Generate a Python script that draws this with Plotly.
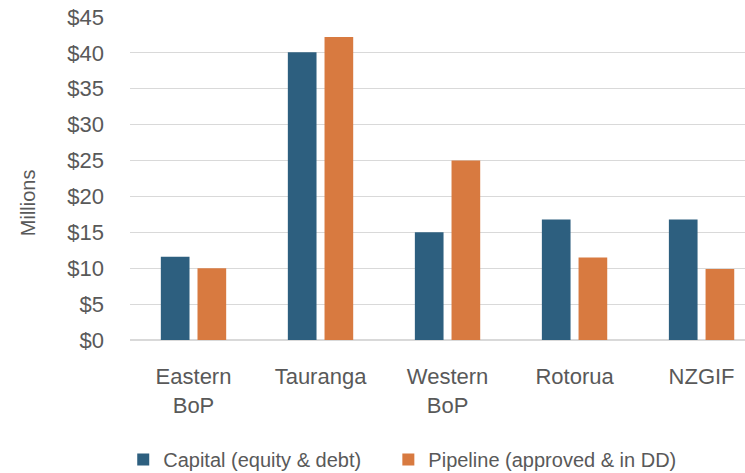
import plotly.graph_objects as go

# Regions along the x axis (two-line labels where the name wraps)
regions = ["Eastern<br>BoP", "Tauranga", "Western<br>BoP", "Rotorua", "NZGIF"]

# Values in $ millions
capital = [11.6, 40.1, 15.0, 16.8, 16.8]
pipeline = [10.0, 42.2, 25.0, 11.5, 9.9]

series_names = ["Capital (equity & debt)", "Pipeline (approved & in DD)"]
y_ticks = [0, 5, 10, 15, 20, 25, 30, 35, 40, 45]

BLUE = "#2D5F7F"
ORANGE = "#D87A40"
TEXT = "#595959"
GRID = "#D9D9D9"
FONT = "Liberation Sans"

# trailing no-break spaces widen the first legend entry so the second one sits further right
PAD = "\u00a0" * 4

fig = go.Figure()
fig.add_trace(go.Bar(x=regions, y=capital, name=series_names[0] + PAD,
                     marker=dict(color=BLUE, line=dict(width=0))))
fig.add_trace(go.Bar(x=regions, y=pipeline, name=series_names[1],
                     marker=dict(color=ORANGE, line=dict(width=0))))

fig.update_layout(
    width=745, height=473, autosize=False,
    margin=dict(l=129.6, r=0, t=17.3, b=132.7, pad=0, autoexpand=False),
    paper_bgcolor="white", plot_bgcolor="white",
    barmode="group", bargap=0.4225, bargroupgap=0.218,
    font=dict(family=FONT, color=TEXT, size=22),
    showlegend=True,
    legend=dict(orientation="h", x=-0.011, xanchor="left", y=-0.370, yanchor="middle",
                font=dict(size=20, color=TEXT, family=FONT),
                itemclick=False, traceorder="normal"),
    hovermode=False,
)

fig.update_xaxes(
    type="category", range=[-0.5, 4.342],
    showline=False, showgrid=False, zeroline=False,
    ticks="", ticklabelstandoff=21,
    tickfont=dict(size=22, color=TEXT, family=FONT),
)
fig.update_yaxes(
    range=[0, 45], tickvals=y_ticks, ticktext=[f"${v}" for v in y_ticks],
    showgrid=True, gridcolor=GRID, gridwidth=1.3,
    zeroline=True, zerolinecolor=GRID, zerolinewidth=1.5,
    showline=False, ticks="", ticklabelstandoff=25,
    tickfont=dict(size=22, color=TEXT, family=FONT),
)

fig.add_annotation(
    text="Millions", textangle=-90, showarrow=False,
    xref="paper", yref="paper", x=-0.1667, y=0.425,
    xanchor="center", yanchor="middle",
    font=dict(size=20, color=TEXT, family=FONT),
)

fig.write_html("out.html")
